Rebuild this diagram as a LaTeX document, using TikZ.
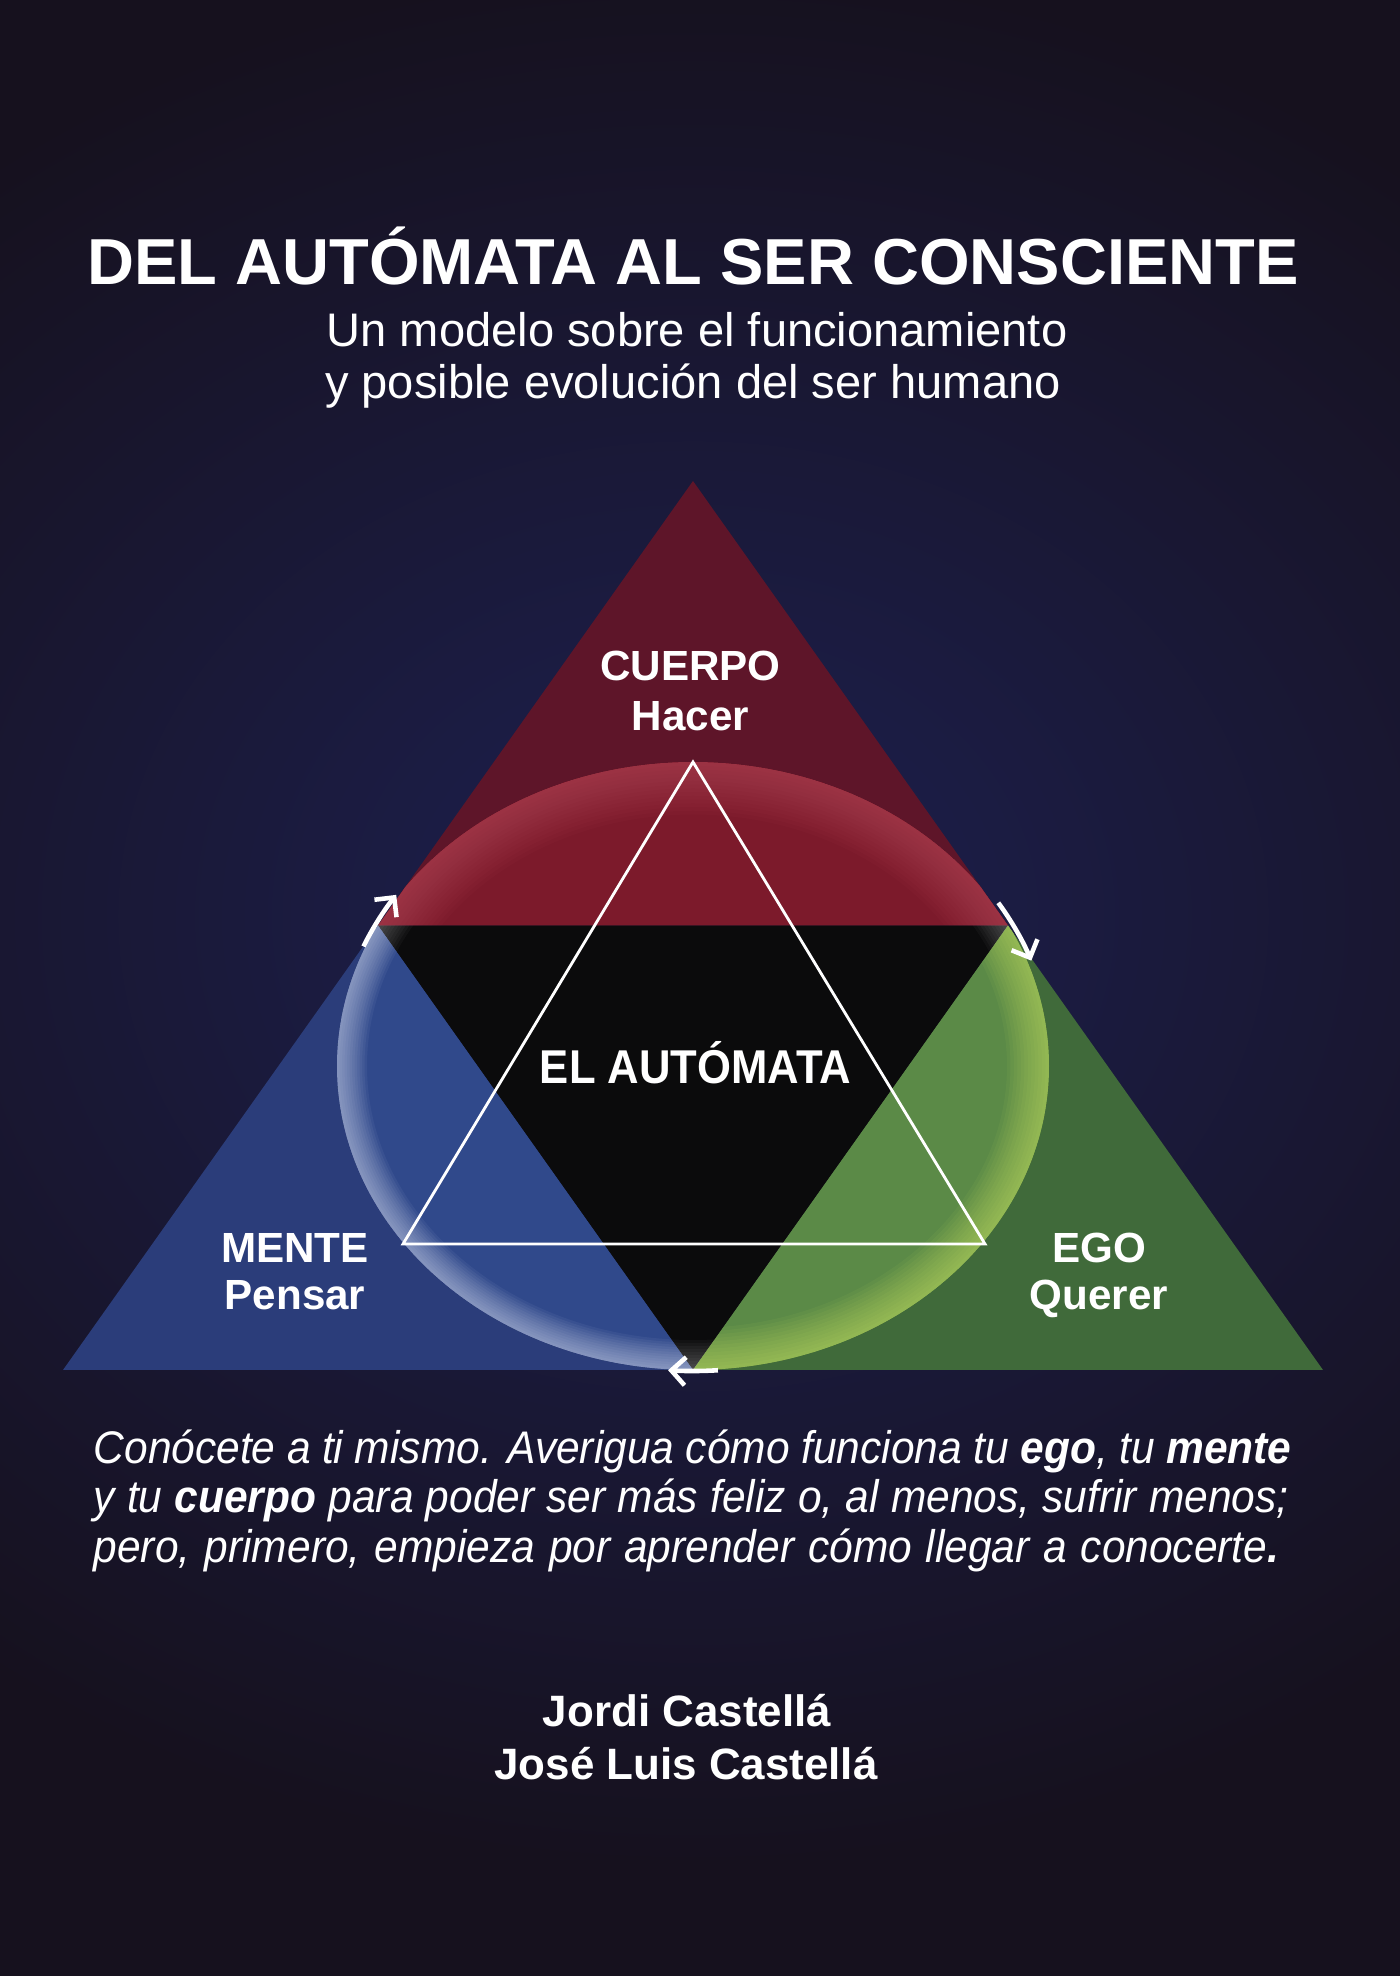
\documentclass[tikz,border=0pt]{standalone}
\usepackage{fontspec}
\setmainfont{Liberation Sans}
\usetikzlibrary{arrows.meta,calc}
\definecolor{bg}{HTML}{16111E}
\definecolor{glow}{HTML}{1D2050}
\definecolor{redout}{HTML}{5E1529}
\definecolor{redin}{HTML}{7C1A2B}
\definecolor{redrim}{HTML}{D06070}
\definecolor{blueout}{HTML}{2B3D7A}
\definecolor{bluein}{HTML}{30498B}
\definecolor{bluerim}{HTML}{E4EAFA}
\definecolor{greenout}{HTML}{406A3A}
\definecolor{greenin}{HTML}{5B8A47}
\definecolor{greenrim}{HTML}{CDE866}
\definecolor{blk}{HTML}{0B0B0C}
\begin{document}
\begin{tikzpicture}[x=1cm,y=1cm,
  txt/.style={text=white, inner sep=0pt, anchor=base},
  lbl/.style={txt, font=\bfseries\fontsize{12}{14}\selectfont},
  para/.style={text=white, inner sep=0pt, anchor=base west, font=\itshape\fontsize{13}{15}\selectfont},
  cyc/.style={white, line width=1.3pt, -{Straight Barb[length=4pt,width=8pt]}},
  rim/.style={line width=#1cm}]
\useasboundingbox (0,0) rectangle (14,19.76);
\fill[bg] (0,0) rectangle (14,19.76);
\begin{scope}
  \clip (0,0) rectangle (14,19.76);
  \shade[inner color=glow, outer color=bg] (6.93,10.6) ellipse [x radius=11.5, y radius=9.5];
\end{scope}

% main triangle subdivision
\coordinate (A) at (6.93,14.95);
\coordinate (L) at (0.63,6.06);
\coordinate (R) at (13.23,6.06);
\coordinate (ML) at (3.78,10.505);
\coordinate (MR) at (10.08,10.505);
\coordinate (MB) at (6.93,6.06);
\coordinate (O) at (6.93,9.10);

\fill[redout] (A)--(ML)--(MR)--cycle;
\fill[blueout] (ML)--(L)--(MB)--cycle;
\fill[greenout] (MR)--(MB)--(R)--cycle;
\fill[blk] (ML)--(MR)--(MB)--cycle;

% the circle (ellipse) tinting
\begin{scope}
  \clip (O) ellipse [x radius=3.56, y radius=3.04];
  \fill[redin] (A)--(ML)--(MR)--cycle;
  \fill[bluein] (ML)--(L)--(MB)--cycle;
  \fill[greenin] (MR)--(MB)--(R)--cycle;
  \begin{scope}
    \clip (A)--(ML)--(MR)--cycle;
    \foreach \i in {1,...,14}
      \draw[redrim, rim={0.075*\i}, opacity=0.04] (O) ellipse [x radius=3.56, y radius=3.04];
  \end{scope}
  \begin{scope}
    \clip (ML)--(L)--(MB)--cycle;
    \foreach \i in {1,...,12}
      \draw[bluerim, rim={0.05*\i}, opacity=0.055] (O) ellipse [x radius=3.56, y radius=3.04];
  \end{scope}
  \begin{scope}
    \clip (MR)--(MB)--(R)--cycle;
    \foreach \i in {1,...,12}
      \draw[greenrim, rim={0.07*\i}, opacity=0.06] (O) ellipse [x radius=3.56, y radius=3.04];
  \end{scope}
  \begin{scope}
    \clip (ML)--(MR)--(MB)--cycle;
    \foreach \i in {1,...,10}
      \draw[white, rim={0.06*\i}, opacity=0.03] (O) ellipse [x radius=3.56, y radius=3.04];
  \end{scope}
\end{scope}

% inner white triangle
\coordinate (WA) at (6.93,12.14);
\coordinate (WL) at (4.03,7.32);
\coordinate (WR) at (9.85,7.32);
\draw[white, line width=0.8pt, line join=miter] (WA)--(WL)--(WR)--cycle;

% cycle arrows on the circle
\coordinate (a1) at ($(O)+(157:3.58 and 3.06)$);
\coordinate (a2) at ($(O)+(32:3.6 and 3.08)$);
\coordinate (a3) at ($(O)+(274:3.57 and 3.05)$);
\draw[cyc] (a1) arc[start angle=157, end angle=146, x radius=3.58, y radius=3.06];
\draw[cyc] (a2) arc[start angle=32, end angle=20, x radius=3.6, y radius=3.08];
\draw[cyc] (a3) arc[start angle=274, end angle=266, x radius=3.57, y radius=3.05];

% labels
\node[lbl] (cuerpo) at (6.905,12.95) {CUERPO};
\node[lbl] (hacer) at (6.905,12.45) {Hacer};
\node[lbl] (mente) at (2.95,7.13) {MENTE};
\node[lbl] (pensar) at (2.95,6.66) {Pensar};
\node[lbl] (ego) at (10.99,7.13) {EGO};
\node[lbl] (querer) at (10.99,6.66) {Querer};
\node[txt, font=\bfseries\fontsize{13.5}{16}\selectfont] (aut) at (6.955,8.92) {\scalebox{0.92}[1]{EL AUTÓMATA}};

% title
\node[txt, font=\bfseries\fontsize{18.5}{22}\selectfont] (title) at (6.93,16.91) {DEL AUTÓMATA AL SER CONSCIENTE};
\node[txt, font=\fontsize{13.4}{16}\selectfont] (sub1) at (6.97,16.29) {Un modelo sobre el funcionamiento};
\node[txt, font=\fontsize{13.4}{16}\selectfont] (sub2) at (6.93,15.77) {y posible evolución del ser humano};

% paragraph
\node[para] (p1) at (0.93,5.12) {\scalebox{0.93}[1]{\makebox[12.88cm][s]{Conócete a ti mismo. Averigua cómo funciona tu {\bfseries ego}, tu {\bfseries mente}}}};
\node[para] (p2) at (0.93,4.63) {\scalebox{0.93}[1]{\makebox[12.85cm][s]{y tu {\bfseries cuerpo} para poder ser más feliz o, al menos, sufrir menos;}}};
\node[para] (p3) at (0.93,4.13) {\scalebox{0.93}[1]{\makebox[12.75cm][s]{pero, primero, empieza por aprender cómo llegar a conocerte{\bfseries .}}}};

% authors
\node[txt, font=\bfseries\fontsize{12.5}{15}\selectfont] (a1n) at (6.87,2.49) {Jordi Castellá};
\node[txt, font=\bfseries\fontsize{12.5}{15}\selectfont] (a2n) at (6.86,1.96) {José Luis Castellá};
\end{tikzpicture}
\end{document}
